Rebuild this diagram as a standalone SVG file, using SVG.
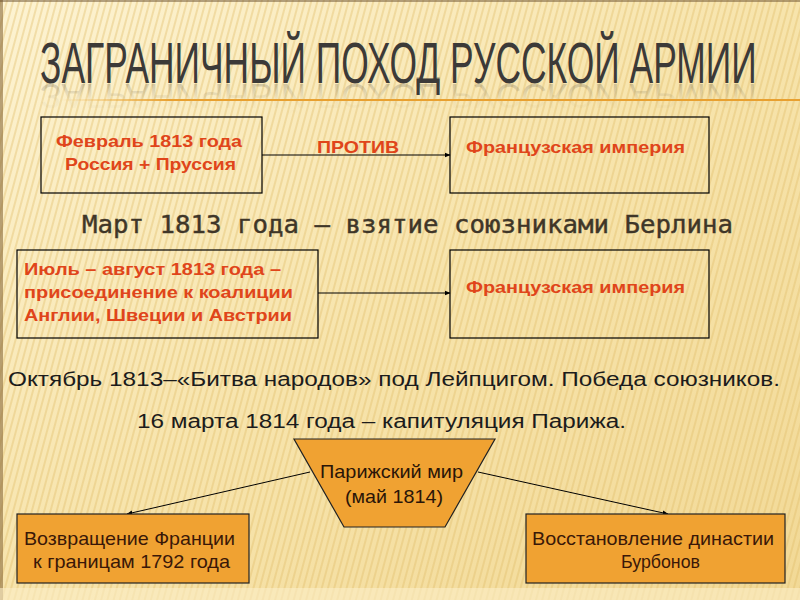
<svg xmlns="http://www.w3.org/2000/svg" width="800" height="600" viewBox="0 0 800 600">
<defs>
<linearGradient id="bg" x1="0" y1="0" x2="1" y2="1">
<stop offset="0" stop-color="#fdf3d2"/>
<stop offset="0.5" stop-color="#f7e4ac"/>
<stop offset="1" stop-color="#f2d996"/>
</linearGradient>
<pattern id="stripes" width="6" height="12" patternUnits="userSpaceOnUse" patternTransform="rotate(15)">
<rect x="0" y="0" width="2" height="12" fill="#e2be6c" opacity="0.4"/>
</pattern>
<linearGradient id="rule" x1="0" y1="0" x2="1" y2="0">
<stop offset="0" stop-color="#f0b040" stop-opacity="0"/>
<stop offset="0.15" stop-color="#e8a030"/>
<stop offset="1" stop-color="#e8a030"/>
</linearGradient>
<linearGradient id="reflFill" x1="0" y1="0" x2="0" y2="1">
<stop offset="0" stop-color="#3c3a38" stop-opacity="0"/>
<stop offset="0.45" stop-color="#3c3a38" stop-opacity="0.05"/>
<stop offset="1" stop-color="#3c3a38" stop-opacity="0.3"/>
</linearGradient>
<marker id="arr" viewBox="0 0 10 10" refX="9" refY="5" markerWidth="6" markerHeight="6" orient="auto" markerUnits="userSpaceOnUse">
<path d="M0,1 L10,5 L0,9 z" fill="#000"/>
</marker>
<style>
.box{fill:none;stroke:#000;stroke-width:1.2}
.obox{fill:#f0a232;stroke:#222;stroke-width:1.2}
.red{font-family:"Liberation Sans",Arial,sans-serif;font-weight:bold;font-size:17px;fill:#e0451a}
.dark{font-family:"Liberation Sans Narrow","Liberation Sans",Arial,sans-serif;font-size:20px;fill:#1c1c1c}
.brown{font-family:"Liberation Sans Narrow","Liberation Sans",Arial,sans-serif;font-size:19px;fill:#3a1808}
.conn{stroke:#000;stroke-width:1;fill:none}
.ttl{font-family:"Liberation Sans Narrow","Liberation Sans",Arial,sans-serif;font-size:57px;fill:#3c3a38}
</style>
</defs>
<rect width="800" height="600" fill="url(#bg)"/>
<rect width="800" height="600" fill="url(#stripes)"/>
<rect x="0" y="0" width="3" height="600" fill="#8a6a3a" opacity="0.6"/>
<rect x="0" y="0" width="800" height="2" fill="#6a5030" opacity="0.5"/>
<rect x="0" y="588" width="800" height="12" fill="#fbefc8" opacity="0.6"/>

<g id="title">
<text class="ttl" x="0" y="0" transform="translate(40,83) scale(0.62,1)" textLength="1156" lengthAdjust="spacingAndGlyphs">ЗАГРАНИЧНЫЙ ПОХОД РУССКОЙ АРМИИ</text>
<text class="ttl" x="0" y="0" transform="translate(40,84) scale(0.62,-0.6)" style="fill:url(#reflFill)" textLength="1156" lengthAdjust="spacingAndGlyphs">ЗАГРАНИЧНЫЙ ПОХОД РУССКОЙ АРМИИ</text>
<rect x="60" y="99" width="740" height="2" fill="url(#rule)"/>
</g>

<g id="connectors">
<line class="conn" x1="262" y1="155" x2="450" y2="155" marker-end="url(#arr)"/>
<line class="conn" x1="318" y1="293" x2="450" y2="293" marker-end="url(#arr)"/>
<line class="conn" x1="310" y1="472" x2="127" y2="514" marker-end="url(#arr)"/>
<line class="conn" x1="478" y1="472" x2="668" y2="514" marker-end="url(#arr)"/>
</g>

<g id="feb1813">
<rect class="box" x="41" y="117" width="221" height="76"/>
<text class="red" x="56" y="147" textLength="186" lengthAdjust="spacingAndGlyphs">Февраль 1813 года</text>
<text class="red" x="65" y="170" textLength="171" lengthAdjust="spacingAndGlyphs">Россия + Пруссия</text>
</g>
<g id="protiv-label">
<text class="red" x="317" y="153" textLength="82" lengthAdjust="spacingAndGlyphs">ПРОТИВ</text>
</g>
<g id="france1">
<rect class="box" x="450" y="117" width="259" height="76"/>
<text class="red" x="466" y="153" textLength="219" lengthAdjust="spacingAndGlyphs">Французская империя</text>
</g>

<g id="berlin">
<text x="82" y="233" font-family="DejaVu Sans Mono,monospace" font-size="24" fill="#3f3628" stroke="#3f3628" stroke-width="0.4" textLength="651" lengthAdjust="spacingAndGlyphs">Март 1813 года – взятие союзниками Берлина</text>
</g>

<g id="july1813">
<rect class="box" x="17" y="250" width="301" height="88"/>
<text class="red" x="24" y="275" textLength="257" lengthAdjust="spacingAndGlyphs">Июль – август 1813 года –</text>
<text class="red" x="24" y="298" textLength="269" lengthAdjust="spacingAndGlyphs">присоединение к коалиции</text>
<text class="red" x="24" y="321" textLength="268" lengthAdjust="spacingAndGlyphs">Англии, Швеции и Австрии</text>
</g>
<g id="france2">
<rect class="box" x="450" y="250" width="259" height="88"/>
<text class="red" x="466" y="293" textLength="219" lengthAdjust="spacingAndGlyphs">Французская империя</text>
</g>

<g id="leipzig">
<text class="dark" x="8" y="386" textLength="772" lengthAdjust="spacingAndGlyphs">Октябрь 1813–«Битва народов» под Лейпцигом. Победа союзников.</text>
</g>
<g id="paris">
<text class="dark" x="137" y="428" textLength="489" lengthAdjust="spacingAndGlyphs">16 марта 1814 года – капитуляция Парижа.</text>
</g>

<g id="peace">
<polygon points="294,439 495,439 445,527 344,527" fill="#f0a232" stroke="#222" stroke-width="1.2"/>
<text x="320" y="478" font-family="Liberation Sans,Arial,sans-serif" font-size="19" fill="#2a1508" textLength="143" lengthAdjust="spacingAndGlyphs">Парижский мир</text>
<text x="345" y="503" font-family="Liberation Sans,Arial,sans-serif" font-size="19" fill="#2a1508" textLength="98" lengthAdjust="spacingAndGlyphs">(май 1814)</text>
</g>

<g id="borders">
<rect class="obox" x="17" y="514" width="232" height="69"/>
<text class="brown" x="24" y="545" textLength="211" lengthAdjust="spacingAndGlyphs">Возвращение Франции</text>
<text class="brown" x="33" y="568" textLength="197" lengthAdjust="spacingAndGlyphs">к границам 1792 года</text>
</g>
<g id="bourbons">
<rect class="obox" x="526" y="514" width="259" height="69"/>
<text class="brown" x="532" y="545" textLength="242" lengthAdjust="spacingAndGlyphs">Восстановление династии</text>
<text class="brown" x="621" y="568" textLength="79" lengthAdjust="spacingAndGlyphs">Бурбонов</text>
</g>
</svg>
